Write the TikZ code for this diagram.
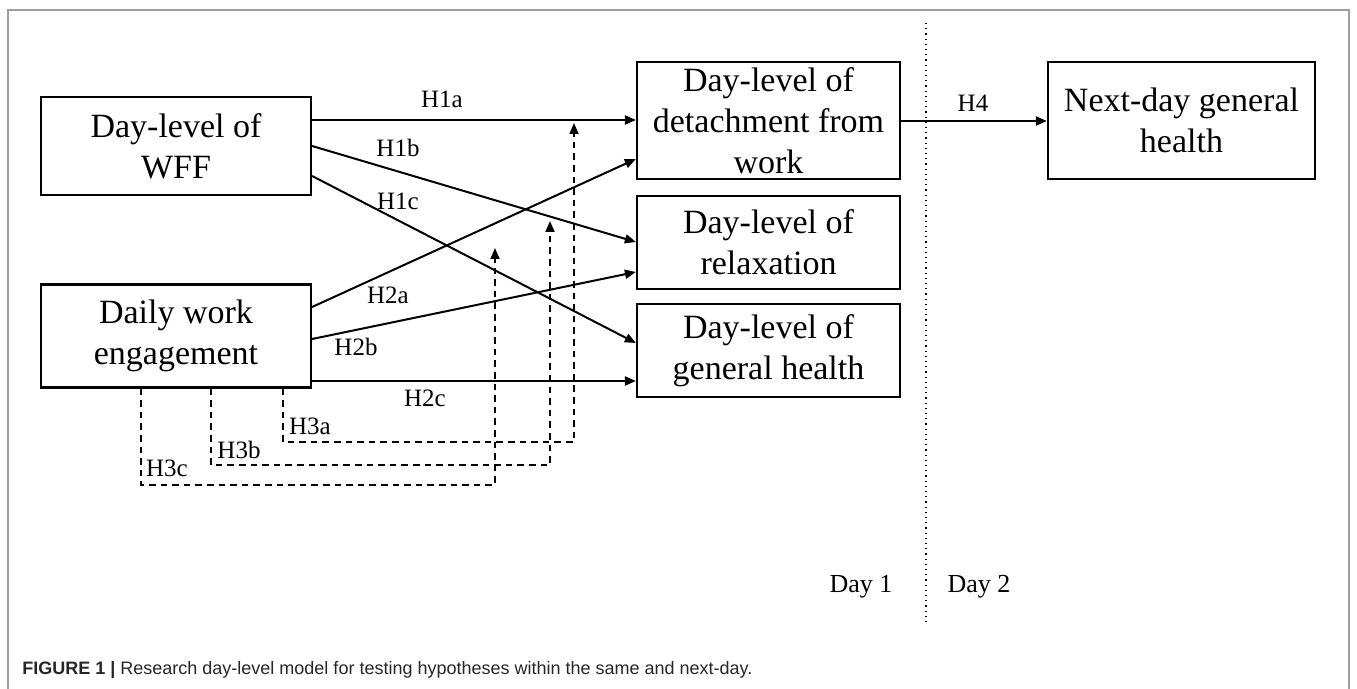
\documentclass[tikz,border=0pt]{standalone}
\usepackage{fontspec}
\setmainfont{Liberation Serif}
\newfontfamily\capfont{Liberation Sans}
\usepackage{graphicx}
\usetikzlibrary{arrows.meta}
\begin{document}
\begin{tikzpicture}[x=0.5pt,y=-0.5pt,
  box/.style={draw, line width=1.1pt, align=center, inner sep=0pt, font=\fontsize{17}{20.5}\selectfont},
  arr/.style={line width=1pt, -{Triangle[length=5.5pt,width=4.5pt]}},
  darr/.style={line width=0.9pt, dash pattern=on 3.3pt off 2.5pt, -{Triangle[length=5.5pt,width=4.5pt]}},
  lab/.style={font=\fontsize{12.5}{14}\selectfont, inner sep=0pt},
  daylab/.style={font=\fontsize{13}{15}\selectfont, inner sep=0pt}]
\useasboundingbox (0,0) rectangle (1357,689);
% frame
\draw[gray!75, line width=1pt] (8,689) -- (8,10) -- (1349,10) -- (1349,689);
% boxes
\node[box, minimum width=135pt, minimum height=49pt] (wff) at (176,146) {Day-level of\\WFF};
\node[box, minimum width=135pt, minimum height=51.5pt] (eng) at (176,336) {Daily work\\engagement};
\node[box, minimum width=131.5pt, minimum height=58.5pt] (det) at (768.5,120.5) {Day-level of\\detachment from\\work};
\node[box, minimum width=131.5pt, minimum height=46.5pt] (rel) at (768.5,242.5) {Day-level of\\relaxation};
\node[box, minimum width=131.5pt, minimum height=46.5pt] (gh) at (768.5,350.5) {Day-level of\\general health};
\node[box, minimum width=133.5pt, minimum height=58.5pt] (nd) at (1181.5,120.5) {Next-day general\\health};
% day divider
\draw[line width=0.6pt, dotted] (926,23) -- (926,623);
\node[daylab] (d1) at (861,587) {Day 1};
\node[daylab] (d2) at (979,587) {Day 2};
% solid arrows
\draw[arr] (wff.east |- 0,120) -- (det.west |- 0,120);
\draw[arr] (wff.east |- 0,146) -- (rel.west |- 0,242);
\draw[arr] (wff.east |- 0,176) -- (gh.west |- 0,343);
\draw[arr] (eng.east |- 0,307) -- (det.west |- 0,159);
\draw[arr] (eng.east |- 0,339) -- (rel.west |- 0,272);
\draw[arr] (eng.east |- 0,381) -- (gh.west |- 0,381);
\draw[arr] (det.east |- 0,121) -- (nd.west |- 0,121);
% dashed arrows
\draw[darr] (eng.south -| 283,0) |- (574,442) -- (574,123);
\draw[darr] (eng.south -| 211,0) |- (550,465) -- (550,221);
\draw[darr] (eng.south -| 141,0) |- (495,485) -- (495,248);
% labels
\node[lab] (l1a) at (442,99) {H1a};
\node[lab] (l1b) at (398,148) {H1b};
\node[lab] (l1c) at (398,201) {H1c};
\node[lab] (l2a) at (388,295) {H2a};
\node[lab] (l2b) at (356,347) {H2b};
\node[lab] (l2c) at (425,398) {H2c};
\node[lab] (l3a) at (310,426) {H3a};
\node[lab] (l3b) at (239,450) {H3b};
\node[lab] (l3c) at (167,468) {H3c};
\node[lab] (l4) at (973,103) {H4};
% caption
\node[anchor=west, inner sep=0pt, text=black!85, font=\capfont\fontsize{9}{11}\selectfont] (cap) at (22,670)
  {\resizebox{365pt}{\height}{\textbf{FIGURE 1 |} Research day-level model for testing hypotheses within the same and next-day.}};
\end{tikzpicture}
\end{document}
